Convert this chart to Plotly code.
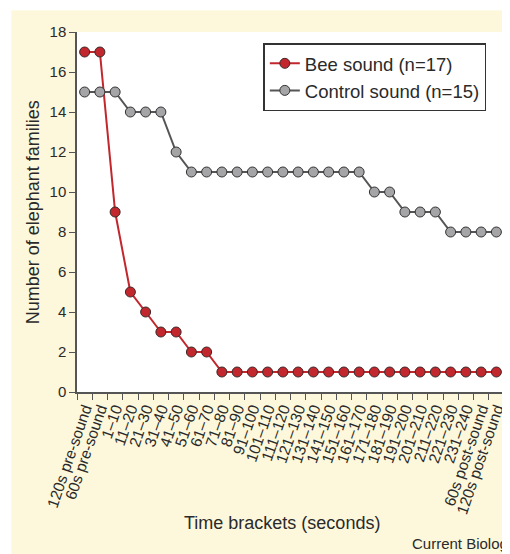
import plotly.graph_objects as go

categories = ["120s pre-sound", "60s pre-sound"] + [f"{(i*10)+1}–{(i+1)*10}" for i in range(24)] + ["60s post-sound", "120s post-sound"]
bee_values = [17, 17, 9, 5, 4, 3, 3, 2, 2, 1, 1, 1, 1, 1, 1, 1, 1, 1, 1, 1, 1, 1, 1, 1, 1, 1, 1, 1]
control_values = [15, 15, 15, 14, 14, 14, 12, 11, 11, 11, 11, 11, 11, 11, 11, 11, 11, 11, 11, 10, 10, 9, 9, 9, 8, 8, 8, 8]
y_ticks = [0, 2, 4, 6, 8, 10, 12, 14, 16, 18]

FONT = "Liberation Sans, Arial, sans-serif"
TXT = "#2a2a2a"
AX = "#555555"
CREAM = "#fdf8dc"

# plot area in figure pixels
L, R, T, B = 68.7, 495.6, 23.7, 383.7
PW, PH = R - L, B - T

def px(x):
    return (x - L) / PW

def py(y):
    return (B - y) / PH

fig = go.Figure()
fig.add_trace(go.Scatter(
    x=categories, y=bee_values, name="Bee sound (n=17)", mode="lines+markers",
    line=dict(color="#c1272d", width=2),
    marker=dict(size=10, color="#c1272d", line=dict(color="#3a2a2a", width=1)),
))
fig.add_trace(go.Scatter(
    x=categories, y=control_values, name="Control sound (n=15)", mode="lines+markers",
    line=dict(color="#555555", width=2),
    marker=dict(size=10, color="#a5a5a8", line=dict(color="#333333", width=1)),
))

fig.update_layout(
    width=510, height=554,
    margin=dict(l=L, r=510 - R, t=T, b=554 - B),
    paper_bgcolor=CREAM, plot_bgcolor="white",
    font=dict(family=FONT, color=TXT, size=15),
    showlegend=True,
    legend=dict(
        x=px(255), y=py(35), xanchor="left", yanchor="top",
        bgcolor="white", bordercolor="#333333", borderwidth=1.5,
        font=dict(size=18.5, family=FONT, color=TXT),
        tracegroupgap=0,
    ),
    xaxis=dict(
        type="category", categoryorder="array", categoryarray=categories,
        range=[-0.5, 27.5], tickson="boundaries",
        tickmode="linear", tick0=0, dtick=1,
        showline=True, linecolor=AX, linewidth=1.5,
        ticks="outside", ticklen=6, tickcolor=AX, tickwidth=1.2,
        tickangle=-71, tickfont=dict(size=15.5, family=FONT, color=TXT),
        showgrid=False, zeroline=False, fixedrange=True, automargin=False,
    ),
    yaxis=dict(
        range=[0, 18], tickvals=y_ticks,
        showline=True, linecolor=AX, linewidth=1.5,
        ticks="outside", ticklen=6, tickcolor=AX, tickwidth=1.2,
        tickfont=dict(size=15, family=FONT, color=TXT),
        showgrid=False, zeroline=False, fixedrange=True, automargin=False,
    ),
    shapes=[
        dict(type="rect", xref="paper", yref="paper", x0=px(-5), x1=px(520), y0=py(2), y1=py(-5),
             fillcolor="white", line=dict(width=0), layer="above"),
        dict(type="rect", xref="paper", yref="paper", x0=px(-5), x1=px(3), y0=py(560), y1=py(-5),
             fillcolor="white", line=dict(width=0), layer="above"),
    ],
    annotations=[
        dict(text="Time brackets (seconds)", xref="paper", yref="paper",
             x=px(274), y=py(515), xanchor="center", yanchor="middle",
             showarrow=False, font=dict(size=18, family=FONT, color=TXT)),
        dict(text="Number of elephant families", xref="paper", yref="paper",
             x=px(25), y=0.5, xanchor="center", yanchor="middle", textangle=-90,
             showarrow=False, font=dict(size=18, family=FONT, color=TXT)),
        dict(text="Current Biology", xref="paper", yref="paper",
             x=px(510), y=py(535), xanchor="right", yanchor="middle",
             showarrow=False, font=dict(size=15, family=FONT, color=TXT)),
    ],
)

fig.write_html("out.html")
